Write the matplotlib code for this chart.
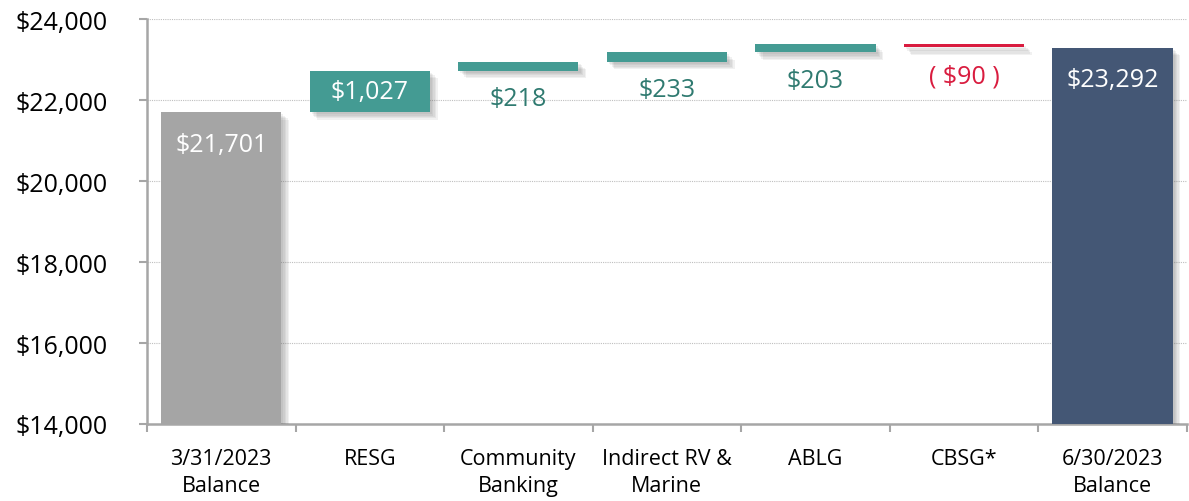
import matplotlib.pyplot as plt
import matplotlib.patheffects as pe
import numpy as np

categories = ["3/31/2023\nBalance", "RESG", "Community\nBanking", "Indirect RV &\nMarine",
              "ABLG", "CBSG*", "6/30/2023\nBalance"]
start_balance = 21701
changes = [1027, 218, 233, 203, -90]
end_balance = 23292
labels = ["$21,701", "$1,027", "$218", "$233", "$203", "( $90 )", "$23,292"]

plt.rcParams["font.family"] = ["Open Sans", "DejaVu Sans"]

GRAY = "#a5a5a5"
TEAL = "#449b93"
TEAL_TXT = "#2f7a70"
RED = "#d91c3f"
NAVY = "#445775"
AXIS = "#a6a6a6"

# waterfall bottoms / heights
bottoms = [0]
heights = [start_balance]
running = start_balance
for c in changes:
    bottoms.append(min(running, running + c))
    heights.append(abs(c))
    running += c
bottoms.append(0)
heights.append(end_balance)
colors = [GRAY] + [TEAL if c > 0 else RED for c in changes] + [NAVY]

fig = plt.figure(figsize=(11.89, 5.02), dpi=100)
ax = fig.add_axes([0.1236, 0.1534, 0.8745, 0.8066])

x = np.arange(len(categories))
# soft-ish shadow: a few stacked translucent offsets
shadow = [pe.SimplePatchShadow(offset=(o, -o), shadow_rgbFace="#666666", alpha=0.09)
          for o in (1.5, 2.5, 3.5, 4.5, 5.5)] + [pe.Normal()]
for i in range(len(categories)):
    if colors[i] == RED:
        # negative step shown as a thin line at the top of its range
        ax.bar(x[i], 80, bottom=bottoms[i] + heights[i] - 80, width=0.81,
               color=RED, zorder=3, path_effects=shadow)
    else:
        ax.bar(x[i], heights[i], bottom=bottoms[i], width=0.81,
               color=colors[i], zorder=3, path_effects=shadow)

# data labels
fs = 18
for i, lab in enumerate(labels):
    top = bottoms[i] + heights[i]
    if i in (0, len(labels) - 1):
        ax.annotate(lab, (x[i], top), xytext=(0, -23), textcoords="offset points",
                    ha="center", va="center", color="white", fontsize=fs, zorder=5)
    elif i == 1:
        ax.text(x[i], bottoms[i] + heights[i] / 2, lab, ha="center", va="center",
                color="white", fontsize=fs, zorder=5)
    else:
        col = RED if changes[i - 1] < 0 else TEAL_TXT
        ax.annotate(lab, (x[i], bottoms[i]), xytext=(0, -20), textcoords="offset points",
                    ha="center", va="center", color=col, fontsize=fs, zorder=5)

ax.set_xlim(-0.5, len(categories) - 0.5)
ax.set_ylim(14000, 24000)
ax.set_yticks(np.arange(14000, 24001, 2000))
ax.set_yticklabels([f"${v:,.0f}" for v in np.arange(14000, 24001, 2000)], fontsize=18)
ax.set_xticks(x)
ax.set_xticklabels(categories, fontsize=15.5, linespacing=1.4)
ax.set_xticks(np.arange(-0.5, len(categories)), minor=True)
ax.tick_params(axis="x", which="major", length=0, pad=17)
ax.tick_params(axis="x", which="minor", length=6, color=AXIS, width=1.5, direction="out")
ax.tick_params(axis="y", length=6, color=AXIS, width=1.5, pad=22)

ax.grid(axis="y", color="#bfbfbf", linestyle=(0, (1, 1)), linewidth=0.8, zorder=0)
ax.set_axisbelow(True)
for s in ("top", "right"):
    ax.spines[s].set_visible(False)
for s in ("left", "bottom"):
    ax.spines[s].set_color(AXIS)
    ax.spines[s].set_linewidth(1.8)

fig.savefig("out.png", dpi=100)
